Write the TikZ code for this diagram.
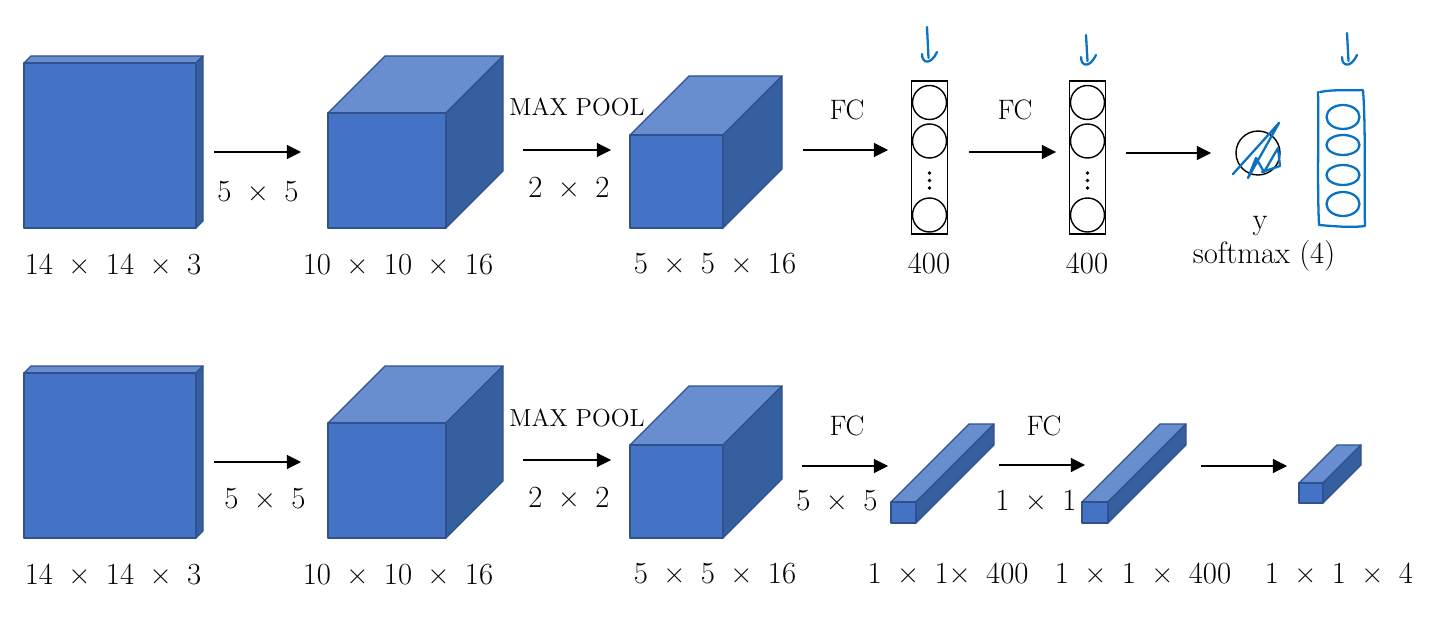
\documentclass[tikz,border=0pt]{standalone}
\usepackage{fontspec}
\usetikzlibrary{arrows.meta}
\definecolor{facefront}{HTML}{4472C4}
\definecolor{facetop}{HTML}{698ED0}
\definecolor{faceside}{HTML}{365F9F}
\definecolor{faceline}{HTML}{2F528F}
\definecolor{pen}{HTML}{0A72C2}
\newcommand\bx{\hspace{0.5em}×\hspace{0.5em}}

\begin{document}
\begin{tikzpicture}[
  x=0.02cm,y=-0.02cm,
  face/.style={draw=faceline,line width=0.7pt,line join=round},
  front/.style={face,fill=facefront,inner sep=0pt,outer sep=0pt,anchor=south west},
  edge/.style={-{Triangle[length=8pt,width=8pt]},black,line width=0.6pt},
  dims/.style={font=\fontsize{17.5}{20}\selectfont,inner sep=0pt,anchor=base},
  op/.style={font=\fontsize{16}{19}\selectfont,inner sep=0pt,anchor=base},
  pool/.style={font=\fontsize{14}{17}\selectfont,inner sep=0pt,anchor=base},
  layer/.style={draw,line width=0.8pt,minimum width=0.73cm,minimum height=3.06cm,inner sep=0pt},
  unit/.style={circle,draw,line width=0.8pt,minimum size=0.68cm,inner sep=0pt},
  ink/.style={pen,line width=1.3pt,line cap=round,line join=round}
]
  \useasboundingbox (0,0) rectangle (1441,625);

  % blocks: name/x/bottom/width/height/depth
  \foreach \n/\x/\y/\w/\h/\d in {in1/24/228/172/165/7, conv1/328/228/118/115/57, pool1/630/228/93/93/59,
      in2/24/538/172/165/7, conv2/328/538/118/115/57, pool2/630/538/93/93/59,
      fc1/891/523/25/21/78, fc2/1082/523/26/21/78, out2/1299/503/24/20/38} {
    \draw[face,fill=facetop] (\x,\y-\h) -- ++(\d,-\d) -- ++(\w,0) -- ++(-\d,\d) -- cycle;
    \draw[face,fill=faceside] (\x+\w,\y) -- ++(0,-\h) -- ++(\d,-\d) -- ++(0,\h) -- cycle;
    \node[front,minimum width=\w*0.02cm,minimum height=\h*0.02cm] (\n) at (\x,\y) {};
  }

  % fully connected layers
  \foreach \n/\x in {h1/929.5, h2/1087.5} {
    \node[layer] (\n) at (\x,157.5) {};
    \node[unit] (\n-a) at (\x,102.5) {};
    \node[unit] (\n-b) at (\x,141) {};
    \node[unit] (\n-d) at (\x,215) {};
    \foreach \yy in {173,180.5,188}
      \fill (\x,\yy) circle [radius=1.8];
  }
  \node[circle,draw,line width=0.8pt,minimum size=0.88cm,inner sep=0pt] (yhat) at (1258,153) {};

  % arrows
  \foreach \n/\xa/\xb/\yy in {a1/214/301/152, a2/523/611/150, a3/803/888/150, a4/969/1056/152, a5/1126/1211/153,
      b1/214/301/462, b2/523/611/460, b3/802/888/466, b4/999/1085/465, b5/1201/1287/466} {
    \coordinate (\n-s) at (\xa,\yy);
    \coordinate (\n-e) at (\xb,\yy);
    \draw[edge] (\n-s) -- (\n-e);
  }

  % labels
  \foreach \n/\x/\y/\t in {l1/113/275/14\bx14\bx3, l2/398/275/10\bx10\bx16,
      l3/715/273/5\bx5\bx16, l4/929/273/400, l5/1087/273/400,
      k1/258/201/5\bx5, k2/569/197/2\bx2,
      m1/113/584/14\bx14\bx3, m2/398/584/10\bx10\bx16,
      m3/715/583/5\bx5\bx16, m4/948/583/1\bx1×\hspace{0.5em}400,
      m5/1143/583/1\bx1\bx400, m6/1339/583/1\bx1\bx4,
      n1/265/508/5\bx5, n2/569/507/2\bx2, n3/837/510/5\bx5, n4/1036/510/1\bx1}
    \node[dims] (\n) at (\x,\y) {\t};
  \foreach \n/\x/\y in {fcA/847/120, fcB/1015/120, fcC/847/435, fcD/1044/435}
    \node[op] (\n) at (\x,\y) {FC};
  \node[pool] (mp1) at (577,116) {MAX POOL};
  \node[pool] (mp2) at (577,426) {MAX POOL};
  \node[dims] (ylbl) at (1260,230) {y};
  \node[dims] (smax) at (1264,263) {softmax (4)};

  % handwritten notes
  \foreach \x/\ya/\yb in {927/27/58, 1086/35/61, 1347/33/61} {
    \draw[ink] (\x,\ya) -- (\x+1.5,\yb);
    \draw[ink] (\x-5,\yb-4) .. controls (\x-5,\yb+6) and (\x+4,\yb+7) .. (\x+10,\yb-6);
  }
  \draw[ink] (1233,174) -- (1279,123) -- (1248,178) -- (1256,158) -- (1264,172) -- (1278,148) -- (1280,166) -- (1262,172);
  \draw[ink] (1320,92) .. controls (1335,89) and (1350,91) .. (1363,90)
    .. controls (1366,130) and (1364,190) .. (1365,226)
    .. controls (1350,228) and (1332,226) .. (1319,225)
    .. controls (1317,180) and (1319,130) .. (1318,92);
  \foreach \yy/\ry in {117/12, 145/10, 175/10, 204/12}
    \draw[ink] (1343,\yy) ellipse [x radius=16.5, y radius=\ry];
\end{tikzpicture}
\end{document}
